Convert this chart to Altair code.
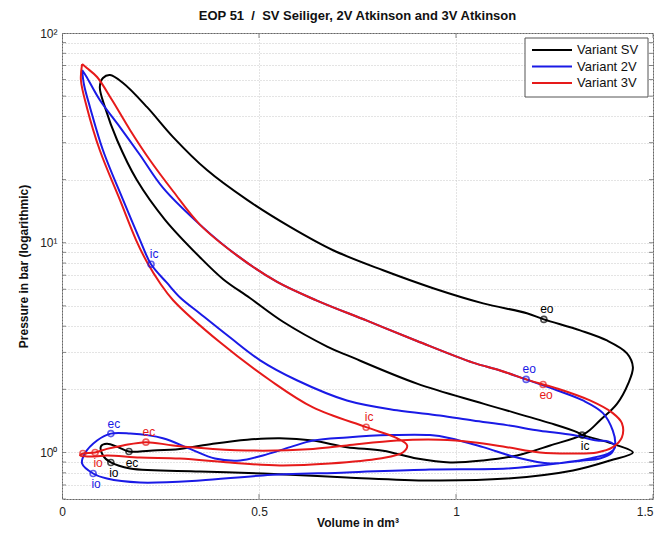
import altair as alt
import pandas as pd

SERIES = ["Variant SV", "Variant 2V", "Variant 3V"]
COLORS = ["#000000", "#1a1ae6", "#e61a1a"]

# ---- Variant SV (Seiliger) : volume [dm3], pressure [bar]
sv_V = [1.320, 1.307, 1.239, 1.069, 0.901, 0.731, 0.673, 0.561, 0.477, 0.409, 0.350,
        0.261, 0.190, 0.140, 0.109, 0.096, 0.104, 0.122, 0.155, 0.216, 0.282, 0.368, 0.470,
        0.579, 0.688, 0.815, 0.942, 1.069, 1.180, 1.223, 1.315, 1.383, 1.434, 1.449, 1.437,
        1.409, 1.365, 1.327, 1.239, 1.155, 1.069, 0.985, 0.901, 0.815, 0.723, 0.637, 0.553,
        0.470, 0.383, 0.299, 0.223, 0.170, 0.142, 0.114, 0.099, 0.104, 0.124, 0.173, 0.350,
        0.510, 0.723, 0.934, 1.129, 1.297, 1.391, 1.449, 1.404, 1.320]
sv_p = [1.21, 1.25, 1.38, 1.71, 2.13, 2.87, 3.2, 4.2, 5.45, 6.7, 8.53,
        12.9, 19.9, 30.8, 44.3, 55.2, 61.0, 63.0, 57.7, 44.3, 31.9, 22.2, 16.0,
        11.9, 9.21, 7.39, 6.07, 5.14, 4.61, 4.31, 3.82, 3.42, 2.97, 2.55, 2.13,
        1.71, 1.42, 1.23, 1.08, 0.968, 0.916, 0.896, 0.936, 1.02, 1.06, 1.14, 1.17,
        1.15, 1.10, 1.04, 1.02, 1.01, 1.06, 1.10, 1.07, 0.968, 0.896, 0.839, 0.812,
        0.794, 0.760, 0.735, 0.751, 0.821, 0.916, 1.00, 1.09, 1.21]

# ---- Variant 2V (Atkinson)
v2_V = [0.051, 0.061, 0.096, 0.147, 0.198, 0.256, 0.350, 0.444, 0.546, 0.647, 0.774, 0.901,
        1.043, 1.112, 1.178, 1.256, 1.322, 1.373, 1.398, 1.404, 1.396, 1.365, 1.322, 1.239,
        1.155, 1.069, 0.985, 0.934, 0.832, 0.723, 0.637, 0.579, 0.510, 0.452, 0.388, 0.325,
        0.256, 0.173, 0.124, 0.089, 0.058, 0.051, 0.079, 0.114, 0.198, 0.350, 0.510, 0.723,
        0.934, 1.129, 1.256, 1.340, 1.391, 1.404, 1.386, 1.358, 1.297, 1.213, 1.129, 1.043,
        0.959, 0.850, 0.723, 0.596, 0.503, 0.426, 0.350, 0.299, 0.266, 0.226, 0.198, 0.155,
        0.104, 0.071, 0.056, 0.051]
v2_p = [66.6, 62.4, 47.9, 35.6, 26.2, 18.3, 12.2, 8.7, 6.5, 5.3, 4.25, 3.4,
        2.68, 2.46, 2.23, 1.98, 1.77, 1.54, 1.27, 1.10, 1.00, 0.936, 0.916, 0.886,
        0.946, 1.06, 1.17, 1.21, 1.21, 1.18, 1.14, 1.06, 0.968, 0.916, 0.936, 1.04,
        1.17, 1.23, 1.23, 1.14, 0.989, 0.886, 0.794, 0.751, 0.719, 0.735, 0.777, 0.803,
        0.830, 0.839, 0.886, 0.936, 1.00, 1.07, 1.13, 1.14, 1.21, 1.27, 1.35, 1.42,
        1.50, 1.59, 1.77, 2.21, 2.75, 3.54, 4.6, 5.5, 6.45, 7.89, 10.3, 16.0,
        27.6, 44.3, 56.5, 66.6]

# ---- Variant 3V (Atkinson)
v3_V = [0.051, 0.063, 0.089, 0.127, 0.173, 0.223, 0.282, 0.350, 0.444, 0.546, 0.647, 0.774,
        0.901, 1.043, 1.112, 1.178, 1.221, 1.256, 1.340, 1.398, 1.421, 1.421, 1.398, 1.358,
        1.297, 1.213, 1.129, 1.043, 0.959, 0.850, 0.723, 0.637, 0.510, 0.383, 0.282, 0.213,
        0.155, 0.114, 0.084, 0.053, 0.046, 0.084, 0.114, 0.198, 0.299, 0.426, 0.553, 0.680,
        0.807, 0.865, 0.876, 0.850, 0.772, 0.637, 0.528, 0.401, 0.282, 0.249, 0.216, 0.188,
        0.147, 0.096, 0.063, 0.048, 0.051]
v3_p = [71.1, 68.1, 61.7, 47.9, 34.4, 24.8, 17.6, 12.2, 8.7, 6.5, 5.3, 4.25,
        3.4, 2.68, 2.46, 2.23, 2.11, 2.02, 1.77, 1.54, 1.38, 1.18, 1.06, 1.00,
        0.989, 1.00, 1.06, 1.12, 1.15, 1.14, 1.08, 1.04, 1.02, 1.04, 1.08, 1.12,
        1.08, 1.04, 1.00, 0.989, 0.968, 0.957, 0.968, 0.946, 0.936, 0.896, 0.867, 0.886,
        0.936, 1.00, 1.08, 1.17, 1.32, 1.64, 2.21, 3.35, 5.32, 6.41, 8.07, 10.3,
        16.0, 27.6, 44.3, 59.7, 71.1]

# ---- valve events (markers + labels)
ev_series = ["Variant SV", "Variant SV", "Variant SV", "Variant SV",
             "Variant 2V", "Variant 2V", "Variant 2V", "Variant 2V",
             "Variant 3V", "Variant 3V", "Variant 3V", "Variant 3V", "Variant 3V"]
ev_label = ["eo", "ic", "ec", "io", "ic", "eo", "ec", "io", "eo", "ic", "ec", "io", ""]
ev_V = [1.223, 1.320, 0.170, 0.124, 0.226, 1.178, 0.124, 0.079, 1.221, 0.772, 0.213, 0.084, 0.053]
ev_p = [4.31, 1.21, 1.01, 0.896, 7.89, 2.23, 1.23, 0.794, 2.11, 1.32, 1.12, 1.00, 0.989]
ev_above = [True, False, False, False, True, True, True, False, False, True, True, False, False]

FONT = "Liberation Sans"

curves = {}
for name, Vs, ps in [(SERIES[0], sv_V, sv_p), (SERIES[1], v2_V, v2_p), (SERIES[2], v3_V, v3_p)]:
    curves[name] = pd.DataFrame({"V": Vs, "p": ps, "i": list(range(len(Vs))), "series": name})

events = pd.DataFrame({"series": ev_series, "label": ev_label, "V": ev_V, "p": ev_p, "above": ev_above})

xs = alt.Scale(domain=[0, 1.5], nice=False, zero=False)
ys = alt.Scale(type="log", domain=[0.6, 100], nice=False)
cs = alt.Scale(domain=SERIES, range=COLORS)

grid_vals = [0.6, 0.7, 0.8, 0.9, 1, 2, 3, 4, 5, 6, 7, 8, 9, 10,
             20, 30, 40, 50, 60, 70, 80, 90, 100]
x_ticks = [0, 0.5, 1, 1.5]

X = alt.X("V:Q", scale=xs,
          axis=alt.Axis(values=x_ticks, title="Volume in dm³", format="~g",
                        labelFlush=False, ticks=False, domain=False, labelPadding=7,
                        titlePadding=0,
                        labelAlign=alt.condition("datum.value == 1.5", alt.value("right"), alt.value("center"))))
Y = alt.Y("p:Q", scale=ys,
          axis=alt.Axis(values=grid_vals, title="Pressure in bar (logarithmic)",
                        labelExpr="datum.value == 1 ? '10⁰' : datum.value == 10 ? '10¹' : datum.value == 100 ? '10²' : ''",
                        labelFlush=False, ticks=False, domain=False, labelPadding=5,
                        titlePadding=9))
C = alt.Color("series:N", scale=cs, legend=None)

layers = []

# inward tick marks on the frame (decoration)
yt = pd.DataFrame({"p": grid_vals})
xt = pd.DataFrame({"V": x_ticks})
for side in (0, 591):
    layers.append(alt.Chart(yt).mark_tick(color="#555", size=8, thickness=1, clip=True).encode(
        y=alt.Y("p:Q", scale=ys), x=alt.value(side)))
for side in (0, 466):
    layers.append(alt.Chart(xt).mark_tick(color="#555", size=10, thickness=1, clip=True).encode(
        x=alt.X("V:Q", scale=xs), y=alt.value(side)))

for name in SERIES:
    layers.append(
        alt.Chart(curves[name]).mark_line(strokeWidth=2, clip=True, interpolate="catmull-rom").encode(
            x=X, y=Y, color=C, order="i:Q"))

layers.append(
    alt.Chart(events).mark_point(shape="circle", filled=False, size=36, strokeWidth=1.6).encode(
        x=X, y=Y, color=C))
layers.append(
    alt.Chart(events).transform_filter("datum.above").mark_text(
        font=FONT, fontSize=12, dy=-10, dx=3).encode(x=X, y=Y, color=C, text="label:N"))
layers.append(
    alt.Chart(events).transform_filter("!datum.above").mark_text(
        font=FONT, fontSize=12, dy=11, dx=3).encode(x=X, y=Y, color=C, text="label:N"))

# legend box (decoration)
one = pd.DataFrame({"k": [0]})
layers.append(alt.Chart(one).mark_rect(fill="white", stroke="#555", strokeWidth=1).encode(
    x=alt.value(463), x2=alt.value(586), y=alt.value(5), y2=alt.value(64)))
for k, (name, col) in enumerate(zip(SERIES, COLORS)):
    yy = 17 + 16.5 * k
    layers.append(alt.Chart(one).mark_rule(color=col, strokeWidth=2).encode(
        x=alt.value(470), x2=alt.value(510), y=alt.value(yy)))
    layers.append(alt.Chart(one).mark_text(font=FONT, fontSize=13, align="left",
                                           baseline="middle", color="#111").encode(
        x=alt.value(515), y=alt.value(yy), text=alt.value(name)))

chart = alt.layer(*layers).properties(
    width=591, height=466,
    title=alt.TitleParams("EOP 51\u00a0 /\u00a0 SV Seiliger, 2V Atkinson and 3V Atkinson",
                          font=FONT, fontSize=13, fontWeight="bold", anchor="middle",
                          offset=4, color="#111"),
    autosize=alt.AutoSizeParams(type="none"),
    padding={"left": 62, "top": 33, "right": 6, "bottom": 38},
    background="white",
).configure_view(stroke="#666", strokeWidth=1).configure_axis(
    labelFont=FONT, labelFontSize=12, labelColor="#222",
    titleFont=FONT, titleFontSize=12, titleFontWeight="bold", titleColor="#111",
    gridColor="#c8c8c8", gridDash=[1, 2], gridWidth=1,
)

chart.save("out.html", embed_options={"renderer": "svg", "actions": False})
